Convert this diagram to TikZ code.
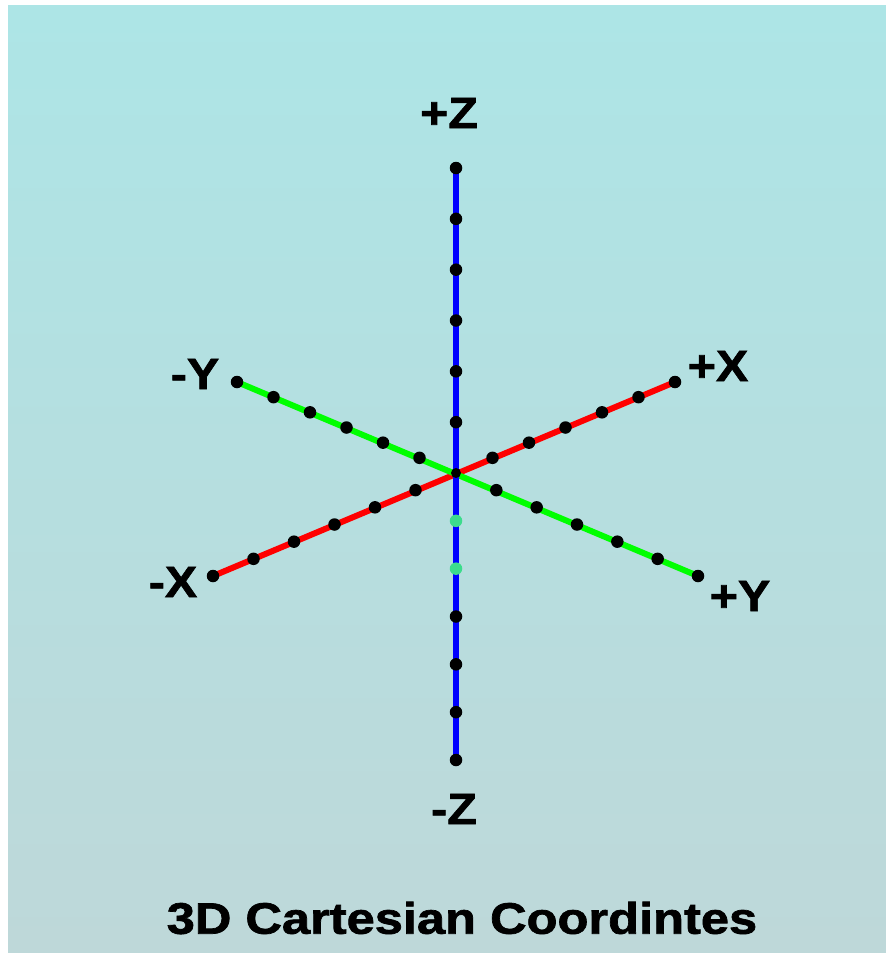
\documentclass[tikz,border=0pt]{standalone}
\usepackage{fontspec}
\newfontfamily\axisfont[FakeStretch=1.1, FakeBold=1.6]{Liberation Sans Bold}
\newfontfamily\titlefont[FakeStretch=1.15, FakeBold=1.6]{Liberation Sans Bold}
\usepackage{xcolor}
\definecolor{skytop}{RGB}{173,229,230}
\definecolor{skybottom}{RGB}{190,216,217}
\definecolor{axisblue}{RGB}{0,0,255}
\definecolor{axisred}{RGB}{255,0,0}
\definecolor{axisgreen}{RGB}{0,255,0}
\definecolor{dotgreen}{RGB}{60,220,140}
\usetikzlibrary{calc}

\begin{document}
\begin{tikzpicture}[
  x=1pt, y=-1pt,
  axisline/.style={line width=6pt},
  dotmark/.style={circle, fill=black, inner sep=0pt, minimum size=12.5pt},
  axislabel/.style={font=\axisfont\fontsize{44}{44}\selectfont, inner sep=0pt}
]
\useasboundingbox (0,0) rectangle (886,953);
\fill[white] (0,0) rectangle (886,953);
\shade[top color=skytop, bottom color=skybottom] (8,5) rectangle (886,953);

\coordinate (o) at (456,473);
\coordinate (xp) at (675,382);
\coordinate (xm) at (213,576);
\coordinate (yp) at (698,576);
\coordinate (ym) at (237,382);
\coordinate (zp) at (456,168);
\coordinate (zm) at (456,760);

\draw[axisline, axisred] (xm) -- (xp);
\draw[axisline, axisgreen] (ym) -- (yp);
\draw[axisline, axisblue, line width=6.5pt] (zm) -- (zp);

\node[dotmark, minimum size=10pt] (o0) at (o) {};
\foreach \e in {xp,xm,yp,ym,zp}
  \foreach \i in {1,...,6}
    \node[dotmark] (\e\i) at ($(o)!\i/6!(\e)$) {};
\foreach \i in {1,2}
  \node[dotmark, fill=dotgreen] (zm\i) at ($(o)!\i/6!(zm)$) {};
\foreach \i in {3,...,6}
  \node[dotmark] (zm\i) at ($(o)!\i/6!(zm)$) {};

\node[axislabel] (zplabel) at (449,113) {+Z};
\node[axislabel] (zmlabel) at (454,809) {-Z};
\node[axislabel] (ymlabel) at (195,374) {-Y};
\node[axislabel] (xplabel) at (718,366) {+X};
\node[axislabel] (xmlabel) at (173,582) {-X};
\node[axislabel] (yplabel) at (740,596) {+Y};
\node[axislabel, font=\titlefont\fontsize{44}{44}\selectfont] (title) at (462,918) {3D Cartesian Coordintes};
\end{tikzpicture}
\end{document}
